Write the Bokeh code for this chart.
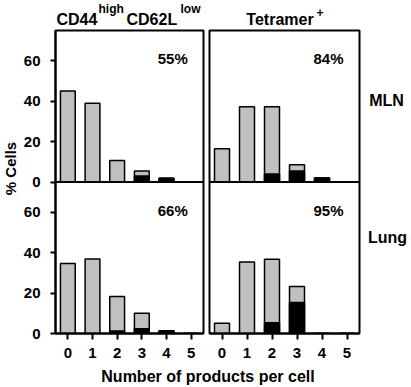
from bokeh.plotting import figure
from bokeh.models import Range1d, FixedTicker, Span, Label
from bokeh.layouts import column, row
from bokeh.embed import file_html
from bokeh.resources import INLINE

# ---- data ----
products = [0, 1, 2, 3, 4, 5]
y_ticks = [0, 20, 40, 60]
panel_max = 75

mln_cd44_total = [45.0, 39.0, 10.7, 5.5, 1.8, 0.0]
mln_cd44_black = [0.0, 0.0, 0.0, 3.0, 1.8, 0.0]
mln_tet_total = [16.4, 37.3, 37.3, 8.5, 2.0, 0.0]
mln_tet_black = [0.0, 0.0, 4.0, 5.5, 2.0, 0.0]
lung_cd44_total = [34.7, 36.9, 18.3, 10.0, 1.3, 0.0]
lung_cd44_black = [0.0, 0.0, 1.2, 2.3, 1.3, 0.0]
lung_tet_total = [5.1, 35.4, 36.8, 23.3, 0.0, 0.0]
lung_tet_black = [0.0, 0.0, 5.3, 15.4, 0.0, 0.0]

pct_mln = ["55%", "84%"]
pct_lung = ["66%", "95%"]
row_names = ["MLN", "Lung"]
x_title = "Number of products per cell"
y_title = "% Cells"

FONT = "Liberation Sans"
GRAY = "#c0c0c0"
PANEL_H = 337


def lbl(p, x, y, text, size, align="left", baseline="alphabetic", angle=0, range_name="default"):
    p.add_layout(Label(x=x, y=y, text=text, text_font=FONT, text_font_style="bold",
                       text_font_size=size, text_align=align, text_baseline=baseline,
                       angle=angle, y_range_name=range_name, text_color="black"))


def strip(width, height):
    s = figure(width=width, height=height, x_range=Range1d(0, width), y_range=Range1d(0, height),
               output_backend="svg", toolbar_location=None, tools="",
               min_border=0, x_axis_location=None, y_axis_location=None)
    s.grid.visible = False
    s.outline_line_color = None
    return s


def style_axis(ax):
    ax.axis_line_width = 2
    ax.axis_line_color = "black"
    ax.major_tick_line_width = 2
    ax.major_tick_line_color = "black"
    ax.major_tick_in = 0
    ax.minor_tick_line_color = None
    ax.major_label_text_font = FONT
    ax.major_label_text_font_style = "bold"
    ax.major_label_text_font_size = "15px"
    ax.major_label_text_color = "black"


def make_fig(width, bl, br, show_y):
    p = figure(width=width, height=PANEL_H, x_range=Range1d(-0.5, 5.5),
               y_range=Range1d(0, 2 * panel_max), output_backend="svg",
               toolbar_location=None, tools="",
               min_border_left=bl, min_border_right=br, min_border_top=2, min_border_bottom=32,
               y_axis_location="left" if show_y else None)
    p.extra_y_ranges = {"top": Range1d(-panel_max, panel_max)}
    p.grid.visible = False
    p.outline_line_color = "black"
    p.outline_line_width = 2
    p.background_fill_color = "white"
    p.border_fill_color = "white"
    xa = p.xaxis[0]
    xa.ticker = FixedTicker(ticks=products)
    style_axis(xa)
    xa.major_tick_out = 6
    xa.major_label_standoff = 8
    if show_y:
        ya = p.yaxis[0]
        ya.ticker = FixedTicker(ticks=y_ticks + [t + panel_max for t in y_ticks])
        ya.major_label_overrides = {t + panel_max: str(t) for t in y_ticks}
        style_axis(ya)
        ya.major_tick_out = 5
        ya.major_label_standoff = 10
    # separator = zero line of the upper panel
    p.add_layout(Span(location=0, dimension="width", y_range_name="top",
                      line_color="black", line_width=2))
    return p


def bars(p, total, black, range_name):
    p.vbar(x=products, top=total, bottom=0, width=0.6, fill_color=GRAY,
           line_color="black", line_width=1.5, y_range_name=range_name)
    p.vbar(x=products, top=black, bottom=0, width=0.6, fill_color="black",
           line_color="black", line_width=1.5, y_range_name=range_name)


left = make_fig(186, 33, 3, True)
right = make_fig(155, 3, 2, False)

bars(left, mln_cd44_total, mln_cd44_black, "top")
bars(left, lung_cd44_total, lung_cd44_black, "default")
bars(right, mln_tet_total, mln_tet_black, "top")
bars(right, lung_tet_total, lung_tet_black, "default")

# percent labels (inside the panels)
lbl(left, 4.86, 61, pct_mln[0], "15px", align="right", range_name="top")
lbl(right, 4.86, 61, pct_mln[1], "15px", align="right", range_name="top")
lbl(left, 4.86, 61, pct_lung[0], "15px", align="right")
lbl(right, 4.86, 61, pct_lung[1], "15px", align="right")

# column titles strip (pixel coordinates, y from the strip bottom)
top = strip(411, 28)
lbl(top, 56, 0.5, "CD44", "16px", baseline="bottom")
lbl(top, 98, 13, "high", "12px", baseline="bottom")
lbl(top, 126, 0.5, "CD62L", "16px", baseline="bottom")
lbl(top, 180, 13, "low", "12px", baseline="bottom")
lbl(top, 279.5, 0.5, "Tetramer", "16px", align="center", baseline="bottom")
lbl(top, 316, 12, "+", "12px", baseline="bottom")

# y title strip
ylab = strip(20, PANEL_H)
lbl(ylab, 10, PANEL_H - 153.5, y_title, "15px", align="center", baseline="middle", angle=1.5707963)

# row names strip
rlab = strip(50, PANEL_H)
lbl(rlab, 25, PANEL_H - 78, row_names[0], "16px", align="center", baseline="middle")
lbl(rlab, 26, PANEL_H - 230, row_names[1], "16px", align="center", baseline="middle")

# x title strip
xl = strip(411, 22)
lbl(xl, 207.5, 11, x_title, "16px", align="center")

layout = column(top, row(ylab, left, right, rlab), xl)
open("out.html", "w").write(file_html(layout, INLINE))
